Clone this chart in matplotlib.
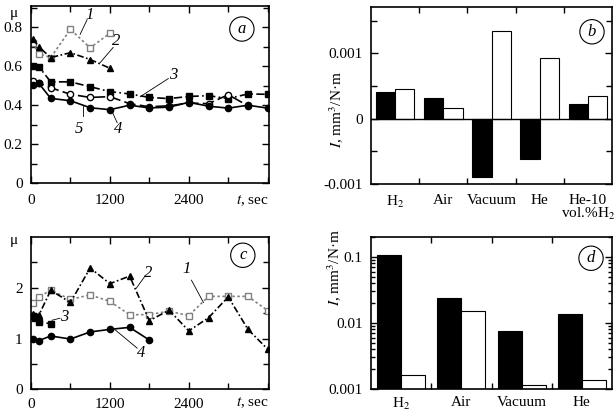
import matplotlib
matplotlib.use("Agg")
import matplotlib.pyplot as plt
import numpy as np
from matplotlib.ticker import MultipleLocator, FixedLocator, NullFormatter

plt.rcParams['font.family'] = ['Liberation Serif', 'DejaVu Serif']
plt.rcParams['mathtext.fontset'] = 'stix'
plt.rcParams['font.size'] = 11

# ---- panel a: friction coefficient vs time
t_a = [30, 120, 300, 600, 900, 1200, 1500, 1800, 2100, 2400, 2700, 3000, 3300, 3600]
a1 = [0.72, 0.665, 0.645, 0.79, 0.695, 0.77]
a2 = [0.74, 0.70, 0.645, 0.67, 0.635, 0.59]
a3 = [0.60, 0.598, 0.52, 0.52, 0.495, 0.47, 0.458, 0.44, 0.434, 0.445, 0.449, 0.434, 0.458, 0.456]
a4 = [0.505, 0.512, 0.435, 0.423, 0.387, 0.377, 0.40, 0.386, 0.39, 0.415, 0.395, 0.385, 0.40, 0.385]
a5 = [0.527, 0.513, 0.49, 0.456, 0.44, 0.444, 0.408, 0.392, 0.397, 0.411, 0.408, 0.454, 0.397]

# ---- panel c
t_c = [30, 120, 300, 600, 900, 1200, 1500, 1800, 2100, 2400, 2700, 3000, 3300, 3600]
c1 = [1.70, 1.82, 1.95, 1.77, 1.86, 1.73, 1.47, 1.47, 1.54, 1.45, 1.83, 1.83, 1.83, 1.55]
c2 = [1.48, 1.46, 1.95, 1.71, 2.39, 2.08, 2.23, 1.35, 1.56, 1.15, 1.41, 1.82, 1.18, 0.79]
c3 = [1.45, 1.40, 1.33, 1.29]
t_c3 = [20, 60, 120, 300]
c4 = [1.00, 0.96, 1.05, 0.99, 1.13, 1.18, 1.22, 0.97]

# ---- panel b: wear intensity (linear)
gases_b = ['H$_2$', 'Air', 'Vacuum', 'He', 'He-10\nvol.%H$_2$']
b_black = [0.00041, 0.00032, -0.00089, -0.00061, 0.00022]
b_white = [0.00046, 0.00017, 0.00135, 0.00093, 0.00035]

# ---- panel d: wear intensity (log)
gases_d = ['H$_2$', 'Air', 'Vacuum', 'He']
d_black = [0.105, 0.024, 0.0075, 0.0135]
d_white = [0.00165, 0.0152, 0.00115, 0.00135]

fig = plt.figure(figsize=(6.16, 4.12), dpi=100)
ax_a = fig.add_axes([0.0503, 0.5558, 0.3864, 0.4296])
ax_b = fig.add_axes([0.6023, 0.5534, 0.3912, 0.4296])
ax_c = fig.add_axes([0.0503, 0.0551, 0.3864, 0.3697])
ax_d = fig.add_axes([0.6023, 0.0558, 0.3912, 0.3690])

grey = '#808080'
ms = 4.5

def style(ax):
    for s in ax.spines.values():
        s.set_linewidth(1.2)
    ax.tick_params(which='both', direction='in', top=True, right=True, width=1.0)
    ax.tick_params(which='major', length=5, pad=6)
    ax.tick_params(which='minor', length=4)

def circ(ax, letter, x, y):
    ax.text(x, y, letter, transform=ax.transAxes, ha='center', va='center',
            fontstyle='italic', fontsize=12,
            bbox=dict(boxstyle='circle,pad=0.25', fc='white', ec='black', lw=0.8))

def lead(ax, txt, xy_text, p0, p1):
    ax.plot([p0[0], p1[0]], [p0[1], p1[1]], color='black', lw=0.6)
    ax.text(xy_text[0], xy_text[1], txt, ha='center', va='center', fontstyle='italic', fontsize=12)

# panel a
ax = ax_a
ax.plot(t_a[:6], a1, color=grey, ls=(0, (1.5, 1.5)), lw=1.2, marker='s', mfc='white', mec=grey, ms=ms)
ax.plot(t_a[:6], a2, color='black', ls=(0, (4, 1.5, 1, 1.5)), lw=1.2, marker='^', mfc='black', mec='black', ms=ms)
ax.plot(t_a, a3, color='black', ls=(0, (5, 2, 1, 2)), lw=1.2, marker='s', mfc='black', mec='black', ms=ms)
ax.plot(t_a[:13], a5, color='black', ls=(0, (7, 2.5)), lw=1.2, marker='o', mfc='white', mec='black', ms=ms)
ax.plot(t_a, a4, color='black', ls='-', lw=1.2, marker='o', mfc='black', mec='black', ms=ms)
ax.set_xlim(0, 3620)
ax.set_ylim(0, 0.91)
ax.xaxis.set_major_locator(FixedLocator([0, 1200, 2400]))
ax.xaxis.set_minor_locator(FixedLocator([600, 1800, 3000, 3600]))
ax.yaxis.set_minor_locator(MultipleLocator(0.1))
style(ax)
ax.tick_params(axis='x', which='major', pad=8)
ax.set_yticks([0, 0.2, 0.4, 0.6, 0.8])
ax.set_yticklabels(['0', '0.2', '0.4', '0.6', '0.8'])
ax.text(-0.072, 0.96, 'μ', transform=ax.transAxes, ha='center', va='center')
ax.text(0.93, -0.1, '$t$, sec', transform=ax.transAxes, ha='center', va='center')
circ(ax, 'a', 0.886, 0.87)
lead(ax, '1', (890, 0.865), (747, 0.764), (854, 0.84))
lead(ax, '2', (1290, 0.728), (1052, 0.619), (1250, 0.697))
lead(ax, '3', (2160, 0.557), (1662, 0.444), (2089, 0.537))
lead(ax, '4', (1330, 0.28), (1235, 0.366), (1311, 0.31))
lead(ax, '5', (735, 0.28), (793, 0.397), (793, 0.346))

# panel c
ax = ax_c
ax.plot(t_c, c1, color=grey, ls=(0, (1.5, 1.5)), lw=1.2, marker='s', mfc='white', mec=grey, ms=ms)
ax.plot(t_c, c2, color='black', ls=(0, (4, 1.5, 1, 1.5)), lw=1.2, marker='^', mfc='black', mec='black', ms=ms)
ax.plot(t_c3, c3, color='black', ls=(0, (5, 2, 1, 2)), lw=1.2, marker='s', mfc='black', mec='black', ms=ms)
ax.plot(t_c[:8], c4, color='black', ls='-', lw=1.2, marker='o', mfc='black', mec='black', ms=ms)
ax.set_xlim(0, 3620)
ax.set_ylim(0, 3.0)
ax.xaxis.set_major_locator(FixedLocator([0, 1200, 2400]))
ax.xaxis.set_minor_locator(FixedLocator([600, 1800, 3000, 3600]))
ax.yaxis.set_major_locator(FixedLocator([0, 1, 2]))
ax.yaxis.set_minor_locator(FixedLocator([0.5, 1.5, 2.5]))
style(ax)
ax.text(-0.072, 0.975, 'μ', transform=ax.transAxes, ha='center', va='center')
ax.text(0.93, -0.09, '$t$, sec', transform=ax.transAxes, ha='center', va='center')
circ(ax, 'c', 0.89, 0.88)
lead(ax, '2', (1775, 2.30), (1601, 1.99), (1723, 2.21))
lead(ax, '1', (2363, 2.37), (2623, 1.71), (2440, 2.15))
lead(ax, '3', (500, 1.42), (320, 1.36), (440, 1.40))
lead(ax, '4', (1670, 0.72), (1281, 1.17), (1616, 0.81))

# panel b
ax = ax_b
x = np.arange(len(gases_b))
ax.bar(x - 0.2, b_black, 0.4, color='black', edgecolor='black', lw=0.8)
ax.bar(x + 0.2, b_white, 0.4, color='white', edgecolor='black', lw=0.8)
ax.axhline(0, color='black', lw=1.0)
ax.set_xlim(-0.5, len(gases_b) - 0.5)
ax.set_ylim(-0.001, 0.00171)
ax.set_xticks(x)
ax.set_xticklabels(gases_b, linespacing=0.95)
ax.xaxis.set_minor_locator(FixedLocator(x[:-1] + 0.5))
ax.set_yticks([-0.001, 0, 0.001])
ax.set_yticklabels(['-0.001', '0', '0.001'])
ax.yaxis.set_minor_locator(FixedLocator([-0.0005, 0.0005, 0.0015]))
style(ax)
ax.tick_params(axis='x', which='major', length=0, pad=7)
ax.text(-0.14, 0.42, '$I$, mm$^3$/N·m', transform=ax.transAxes, rotation=90,
        ha='center', va='center')
circ(ax, 'b', 0.917, 0.86)

# panel d
ax = ax_d
x = np.arange(len(gases_d))
ax.bar(x - 0.2, d_black, 0.4, color='black', edgecolor='black', lw=0.8)
ax.bar(x + 0.2, d_white, 0.4, color='white', edgecolor='black', lw=0.8)
ax.set_yscale('log')
ax.set_xlim(-0.5, len(gases_d) - 0.5)
ax.set_ylim(0.001, 0.2)
ax.set_xticks(x)
ax.set_xticklabels(gases_d)
ax.xaxis.set_minor_locator(FixedLocator(x[:-1] + 0.5))
ax.set_yticks([0.001, 0.01, 0.1])
ax.set_yticklabels(['0.001', '0.01', '0.1'])
ax.yaxis.set_minor_formatter(NullFormatter())
style(ax)
ax.tick_params(axis='x', which='major', length=0, pad=5)
ax.tick_params(axis='y', which='minor', length=3)
ax.text(-0.148, 0.80, '$I$, mm$^3$/N·m', transform=ax.transAxes, rotation=90,
        ha='center', va='center')
circ(ax, 'd', 0.913, 0.86)

fig.savefig('out.png', dpi=100)
